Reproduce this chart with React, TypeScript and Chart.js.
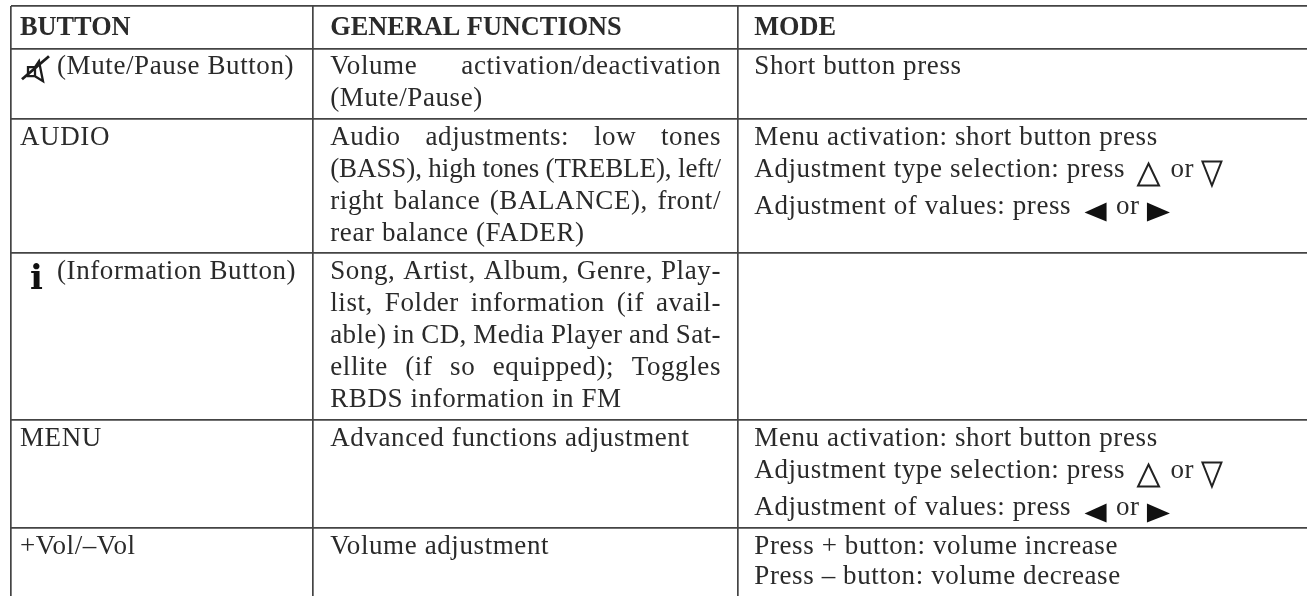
import React, { useEffect, useRef } from "react";
import { Chart, registerables } from "chart.js";

Chart.register(...registerables);

const columnEdges = [0, 302.7, 727.3];
const rowEdges = [0, 42.7, 113, 247, 414, 522];
const headers = ["BUTTON", "GENERAL FUNCTIONS", "MODE"];
const buttonCol = [
  ["{mute}(Mute/Pause Button)"],
  ["AUDIO"],
  ["{info}(Information Button)"],
  ["MENU"],
  ["+Vol/–Vol"],
];
const functionsCol = [
  ["Volume activation/deactivation", "(Mute/Pause)"],
  ["Audio adjustments: low tones", "(BASS), high tones (TREBLE), left/", "right balance (BALANCE), front/", "rear balance (FADER)"],
  ["Song, Artist, Album, Genre, Play-", "list, Folder information (if avail-", "able) in CD, Media Player and Sat-", "ellite (if so equipped); Toggles", "RBDS information in FM"],
  ["Advanced functions adjustment"],
  ["Volume adjustment"],
];
const menuLines = ["Menu activation: short button press", "Adjustment type selection: press {up} or {down}", "Adjustment of values: press {left} or {right}"];
const modeCol = [
  ["Short button press"],
  menuLines,
  [],
  menuLines,
  ["Press + button: volume increase", "Press – button: volume decrease"],
];

const INK = "#2a2a2a";
const LINE = "#444444";
const FONT = '"Liberation Serif"';
const SIZE = 27;
const HEAD_SIZE = 26.3;
const SPACING = 0.6;
const LINE_H = 32;
const PAD_X = [9.5, 17, 16.5];
const JUSTIFY_RIGHT = 710.5;
const MIN_WORD_GAP = 6.5;

function drawTriangle(ctx: CanvasRenderingContext2D, kind: string, x: number, y: number) {
  ctx.save();
  ctx.strokeStyle = "#222";
  ctx.fillStyle = "#111";
  ctx.lineWidth = 2;
  ctx.lineJoin = "miter";
  ctx.beginPath();
  if (kind === "{up}") {
    ctx.moveTo(x + 11.5, y - 13);
    ctx.lineTo(x + 22, y + 9);
    ctx.lineTo(x + 1, y + 9);
    ctx.closePath();
    ctx.stroke();
  } else if (kind === "{down}") {
    ctx.moveTo(x + 1, y - 15);
    ctx.lineTo(x + 20, y - 15);
    ctx.lineTo(x + 10.5, y + 9);
    ctx.closePath();
    ctx.stroke();
  } else if (kind === "{left}") {
    ctx.moveTo(x + 22, y - 11);
    ctx.lineTo(x + 22, y + 8);
    ctx.lineTo(x, y - 1);
    ctx.closePath();
    ctx.fill();
  } else {
    ctx.moveTo(x, y - 11);
    ctx.lineTo(x, y + 8);
    ctx.lineTo(x + 23, y - 1);
    ctx.closePath();
    ctx.fill();
  }
  ctx.restore();
}

const SYMBOL_ADVANCE: Record<string, [number, number]> = {
  "{up}": [4.5, 26],
  "{down}": [0, 21],
  "{left}": [6, 24],
  "{right}": [0, 23],
};

function drawRuns(ctx: CanvasRenderingContext2D, text: string, x: number, y: number) {
  const parts = text.split(/(\{[a-z]+\})/).filter(Boolean);
  let cx = x;
  for (const p of parts) {
    if (p === "{mute}") {
      ctx.save();
      ctx.strokeStyle = "#1c1c1c";
      ctx.lineWidth = 2.3;
      ctx.beginPath();
      ctx.rect(cx + 8, y - 7, 7, 9);
      ctx.moveTo(cx + 15, y - 7);
      ctx.lineTo(cx + 19, y - 13);
      ctx.lineTo(cx + 23, y + 7);
      ctx.lineTo(cx + 15, y + 2);
      ctx.stroke();
      ctx.lineWidth = 2.8;
      ctx.beginPath();
      ctx.moveTo(cx + 2, y + 5);
      ctx.lineTo(cx + 29, y - 18);
      ctx.stroke();
      ctx.restore();
      cx += 37;
    } else if (p === "{info}") {
      ctx.save();
      ctx.font = `bold 34px "DejaVu Serif"`;
      ctx.letterSpacing = "0px";
      ctx.fillStyle = "#111";
      ctx.fillText("i", cx + 10, y + 10);
      ctx.restore();
      cx += 37;
    } else if (SYMBOL_ADVANCE[p]) {
      const [before, adv] = SYMBOL_ADVANCE[p];
      drawTriangle(ctx, p, cx + before, y);
      cx += before + adv;
    } else {
      ctx.fillText(p, cx, y);
      cx += ctx.measureText(p).width;
    }
  }
}

function justify(ctx: CanvasRenderingContext2D, text: string, x: number, right: number, y: number) {
  const words = text.split(" ");
  const avail = right - x;
  const slots = words.length - 1;
  const width = () => words.reduce((s, w) => s + ctx.measureText(w).width, 0);
  ctx.save();
  ctx.letterSpacing = `${SPACING}px`;
  let total = width();
  if ((avail - total) / slots < MIN_WORD_GAP) {
    ctx.letterSpacing = "0px";
    const chars = words.join("").length;
    const s = (avail - MIN_WORD_GAP * slots - width()) / chars;
    ctx.letterSpacing = `${s}px`;
    total = width();
  }
  const gap = (avail - total) / slots;
  let cx = x;
  for (const w of words) {
    ctx.fillText(w, cx, y);
    cx += ctx.measureText(w).width + gap;
  }
  ctx.restore();
}

function modeOffset(lines: string[], i: number) {
  if (lines.length === 3) return [0, 32, 69][i];
  if (lines.length === 2) return i * 30;
  return 0;
}

const tablePlugin = {
  id: "tableText",
  afterDraw(chart: any) {
    const { ctx, scales } = chart;
    const sx = scales.x;
    const sy = scales.y;
    ctx.save();
    ctx.fillStyle = INK;
    ctx.textBaseline = "alphabetic";
    ctx.letterSpacing = "0px";
    ctx.font = `bold ${HEAD_SIZE}px ${FONT}`;
    headers.forEach((h, c) => ctx.fillText(h, sx.getPixelForValue(columnEdges[c]) + PAD_X[c], sy.getPixelForValue(rowEdges[0]) + 29));
    ctx.letterSpacing = `${SPACING}px`;
    ctx.font = `${SIZE}px ${FONT}`;
    [buttonCol, functionsCol, modeCol].forEach((col, c) => {
      col.forEach((lines, r) => {
        lines.forEach((t, i) => {
          const x = sx.getPixelForValue(columnEdges[c]) + PAD_X[c];
          const top = sy.getPixelForValue(rowEdges[r + 1]) + 25.5;
          if (c === 2) drawRuns(ctx, t, x, top + modeOffset(lines, i));
          else if (c === 1 && i < lines.length - 1) justify(ctx, t, x, JUSTIFY_RIGHT + sx.left, top + i * LINE_H);
          else drawRuns(ctx, t, x, top + i * LINE_H);
        });
      });
    });
    ctx.restore();
  },
};

export default function App() {
  const ref = useRef<HTMLCanvasElement>(null);
  useEffect(() => {
    document.body.style.margin = "0";
    const chart = new Chart(ref.current!, {
      type: "scatter",
      data: { datasets: [{ data: [] }] },
      plugins: [tablePlugin],
      options: {
        animation: false,
        responsive: false,
        layout: { padding: { left: 10.5, top: 6, right: 0, bottom: 0 } },
        plugins: { legend: { display: false }, tooltip: { enabled: false } },
        scales: {
          x: {
            type: "linear",
            position: "top",
            min: 0,
            max: 1296.5,
            afterBuildTicks: (a: any) => { a.ticks = columnEdges.map((value) => ({ value })); },
            ticks: { display: false },
            border: { display: false },
            grid: { color: LINE, lineWidth: 1.7, drawTicks: false },
          },
          y: {
            type: "linear",
            reverse: true,
            min: 0,
            max: 590,
            afterBuildTicks: (a: any) => { a.ticks = rowEdges.map((value) => ({ value })); },
            ticks: { display: false },
            border: { display: false },
            grid: { color: LINE, lineWidth: 1.7, drawTicks: false },
          },
        },
      },
    });
    return () => chart.destroy();
  }, []);
  return <canvas ref={ref} width={1307} height={596} style={{ display: "block" }} />;
}
